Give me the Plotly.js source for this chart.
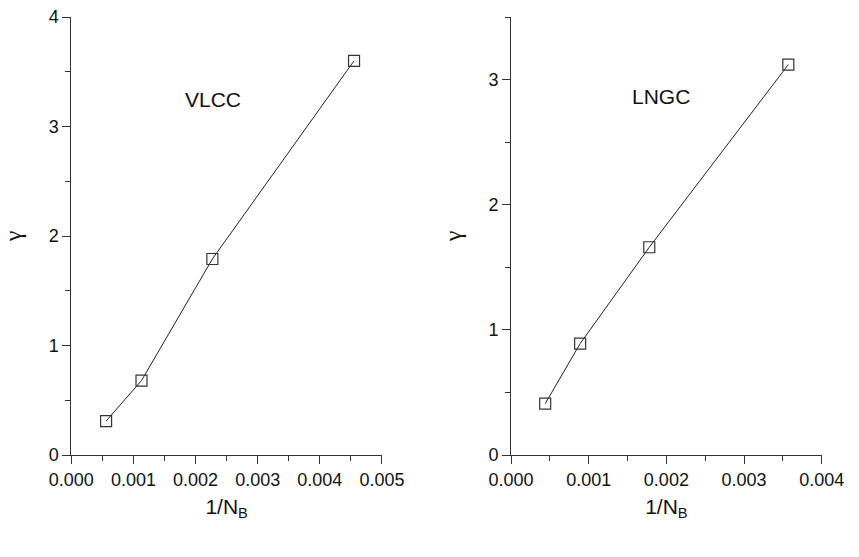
<!DOCTYPE html>
<html>
<head>
<meta charset="utf-8">
<script src="https://cdn.plot.ly/plotly-3.0.1.min.js"></script>
<style>html,body{margin:0;padding:0;background:#fff;}#chart{width:859px;height:557px;}</style>
</head>
<body>
<div id="chart"></div>
<script>
// VLCC (left panel)
const vlccInvNB = [0.00056, 0.00113, 0.00227, 0.00455];
const vlccGamma = [0.31, 0.68, 1.79, 3.60];
// LNGC (right panel)
const lngcInvNB = [0.00044, 0.00089, 0.00178, 0.00357];
const lngcGamma = [0.41, 0.89, 1.66, 3.12];

const xTitle = "1/N<sub>B</sub>";
const yTitle = "γ";

const FONT = "Liberation Sans, Arial, Helvetica, sans-serif";
const SERIF = "Liberation Serif, Times New Roman, serif";
const lineStyle = {color: "#222", width: 1};
const markerStyle = {symbol: "square-open", size: 11, color: "#333", line: {width: 1.2, color: "#333"}};

const traces = [
  {x: vlccInvNB, y: vlccGamma, xaxis: "x", yaxis: "y", mode: "lines+markers",
   line: lineStyle, marker: markerStyle, showlegend: false, hoverinfo: "x+y"},
  {x: lngcInvNB, y: lngcGamma, xaxis: "x2", yaxis: "y2", mode: "lines+markers",
   line: lineStyle, marker: markerStyle, showlegend: false, hoverinfo: "x+y"}
];

function xAxis(domain, range, anchor) {
  return {
    domain: domain, range: range, anchor: anchor, dtick: 0.001, tick0: 0,
    tickformat: ".3f", ticks: "outside", ticklen: 8, tickwidth: 1, tickcolor: "#333",
    showline: true, linecolor: "#333", linewidth: 1, showgrid: false, zeroline: false,
    tickfont: {family: FONT, size: 18, color: "#111"},
    minor: {dtick: 0.0005, tick0: 0, ticks: "outside", ticklen: 5, tickcolor: "#333", showgrid: false},
    title: {text: xTitle, font: {family: FONT, size: 21, color: "#111"}, standoff: 10},
    fixedrange: true
  };
}
function yAxis(range, anchor) {
  return {
    domain: [0, 1], range: range, anchor: anchor, dtick: 1, tick0: 0,
    ticks: "outside", ticklen: 8, tickwidth: 1, tickcolor: "#333",
    showline: true, linecolor: "#333", linewidth: 1, showgrid: false, zeroline: false,
    tickfont: {family: FONT, size: 18, color: "#111"},
    minor: {dtick: 0.5, tick0: 0, ticks: "outside", ticklen: 5, tickcolor: "#333", showgrid: false},
    title: {text: yTitle, font: {family: SERIF, size: 24, color: "#111"}, standoff: 20},
    fixedrange: true
  };
}

const layout = {
  width: 859, height: 557,
  margin: {l: 0, r: 0, t: 17, b: 102},
  paper_bgcolor: "#fff", plot_bgcolor: "#fff",
  font: {family: FONT, color: "#111"},
  xaxis: xAxis([0.0830, 0.4447], [0, 0.005], "y"),
  yaxis: yAxis([0, 4], "x"),
  xaxis2: xAxis([0.5949, 0.9566], [0, 0.004], "y2"),
  yaxis2: yAxis([0, 3.5], "x2"),
  annotations: [
    {text: "VLCC", x: 0.00228, y: 3.245, xref: "x", yref: "y", showarrow: false,
     font: {family: FONT, size: 21, color: "#111"}},
    {text: "LNGC", x: 0.00193, y: 2.864, xref: "x2", yref: "y2", showarrow: false,
     font: {family: FONT, size: 21, color: "#111"}}
  ]
};

Plotly.newPlot("chart", traces, layout, {displayModeBar: false, staticPlot: true});
</script>
</body>
</html>
